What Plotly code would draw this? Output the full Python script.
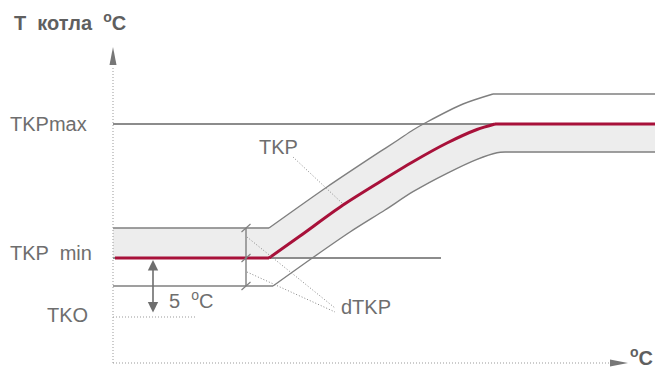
"""
Схема: температура котла в зависимости от наружной температуры (TKP, dTKP)
"""
import numpy as np
import plotly.graph_objects as go

# уровни (условные единицы схемы)
TKP_MAX = 239
TKP_MIN = 105
TKO = 46

# кривая TKP (красная)
tkp_x = [2, 156, 187, 230, 267, 300, 334, 364, 382, 542]
tkp_y = [105, 105, 127, 158, 181.3, 201.3, 220, 233.5, 239, 239]

# верхняя граница dTKP
upper_x = [0, 156, 214, 267, 285, 300, 314, 350, 380, 542]
upper_y = [135, 135, 176, 211.3, 223, 233, 241, 259, 269, 269]

# нижняя граница dTKP
lower_x = [0, 160, 200, 237, 272, 300, 334, 364, 384, 392, 542]
lower_y = [77, 77, 105.5, 131, 153, 171.3, 189.7, 203.7, 210.3, 211, 211]

# подписи
labels = ["TKPmax", "TKP  min", "TKO", "TKP", "5  <sup>o</sup>C", "dTKP"]

GRAY = "#7f7f7f"
TEXT = "#6e6e6e"
RED = "#a8113a"
FILL = "#ededed"
DOT = "1px,2px"


def add_curve(fig, xs, ys, color, width):
    """полки прямыми, переходный участок сглаженным сплайном"""
    fig.add_trace(go.Scatter(x=xs[:2], y=ys[:2], mode="lines", line=dict(color=color, width=width)))
    fig.add_trace(go.Scatter(x=xs[1:-1], y=ys[1:-1], mode="lines",
                             line=dict(color=color, width=width, shape="spline", smoothing=0.8)))
    fig.add_trace(go.Scatter(x=xs[-2:], y=ys[-2:], mode="lines", line=dict(color=color, width=width)))


fig = go.Figure()

# заливка полосы, обрезанная уровнями TKPmin / TKPmax
xg = np.linspace(0, 542, 800)
up = np.minimum(np.interp(xg, upper_x, upper_y), TKP_MAX)
lo = np.maximum(np.interp(xg, lower_x, lower_y), TKP_MIN)
fig.add_trace(go.Scatter(
    x=np.concatenate([xg, xg[::-1]]), y=np.concatenate([up, lo[::-1]]),
    fill="toself", fillcolor=FILL, line=dict(width=0), mode="lines",
))

# горизонтальные уровни
fig.add_trace(go.Scatter(x=[0, 542], y=[TKP_MAX, TKP_MAX], mode="lines",
                         line=dict(color="#8c8c8c", width=2)))
fig.add_trace(go.Scatter(x=[0, 328], y=[TKP_MIN, TKP_MIN], mode="lines",
                         line=dict(color="#8c8c8c", width=2)))
fig.add_trace(go.Scatter(x=[0, 84], y=[TKO, TKO], mode="lines",
                         line=dict(color="#999999", width=1, dash=DOT)))

# границы полосы и кривая TKP
add_curve(fig, upper_x, upper_y, GRAY, 1.4)
add_curve(fig, lower_x, lower_y, GRAY, 1.4)
add_curve(fig, tkp_x, tkp_y, RED, 3)

# оси (пунктир + стрелки)
fig.add_trace(go.Scatter(x=[0, 0], y=[0, 297], mode="lines",
                         line=dict(color="#999999", width=1, dash=DOT)))
fig.add_trace(go.Scatter(x=[0, 497], y=[0, 0], mode="lines",
                         line=dict(color="#999999", width=1, dash=DOT)))
fig.add_trace(go.Scatter(x=[-3.5, 0, 3.5, -3.5], y=[298, 316, 298, 298], fill="toself",
                         fillcolor="#777777", line=dict(width=0), mode="lines"))
fig.add_trace(go.Scatter(x=[497, 515, 497, 497], y=[3.5, 0, -3.5, 3.5], fill="toself",
                         fillcolor="#777777", line=dict(width=0), mode="lines"))

# скобка dTKP
bx = 133
fig.add_trace(go.Scatter(x=[bx, bx], y=[135, 77], mode="lines", line=dict(color=GRAY, width=1.4)))
for ty in [135, 105, 77]:
    fig.add_trace(go.Scatter(x=[bx - 4.5, bx + 4.5], y=[ty - 4, ty + 4], mode="lines",
                             line=dict(color=GRAY, width=1.2)))

# выноски
leaders = [([180, 229], [206, 160]), ([134, 222], [126, 55]), ([134, 222], [91, 51])]
for lx, ly in leaders:
    fig.add_trace(go.Scatter(x=lx, y=ly, mode="lines", line=dict(color="#888888", width=1, dash=DOT)))

# двойная стрелка 5 °C
fig.add_annotation(x=40, y=103, ax=40, ay=49, xref="x", yref="y", axref="x", ayref="y",
                   text="", showarrow=True, arrowside="end+start", arrowhead=2,
                   arrowsize=1.3, arrowwidth=1.6, arrowcolor="#6e6e6e")

# подписи
fig.add_annotation(x=-101, y=342, text="<b>T  котла  <sup>o</sup>C</b>", xanchor="left",
                   showarrow=False, font=dict(size=20, color="#5f5f5f"))
fig.add_annotation(x=515, y=7, text="<b><sup>o</sup>C</b>", xanchor="left",
                   showarrow=False, font=dict(size=20, color="#5f5f5f"))
pos = [(-105, 239, "left"), (-105, 110, "left"), (-23, 48, "right"),
       (144, 216, "left"), (54, 64, "left"), (226, 56, "left")]
for t, (x, y, anc) in zip(labels, pos):
    fig.add_annotation(x=x, y=y, text=t, xanchor=anc, showarrow=False,
                       font=dict(size=20, color=TEXT))

fig.update_xaxes(range=[-113, 542], visible=False)
fig.update_yaxes(range=[-4, 363], visible=False)
fig.update_layout(
    width=655, height=367,
    margin=dict(l=0, r=0, t=0, b=0, autoexpand=False),
    showlegend=False,
    plot_bgcolor="white", paper_bgcolor="white",
    font=dict(family="Liberation Sans, Arial, sans-serif"),
)

# убираем отступ body, чтобы схема начиналась в углу окна
fig.write_html("out.html", config={"displayModeBar": False},
               post_script="document.body.style.margin='0';")
